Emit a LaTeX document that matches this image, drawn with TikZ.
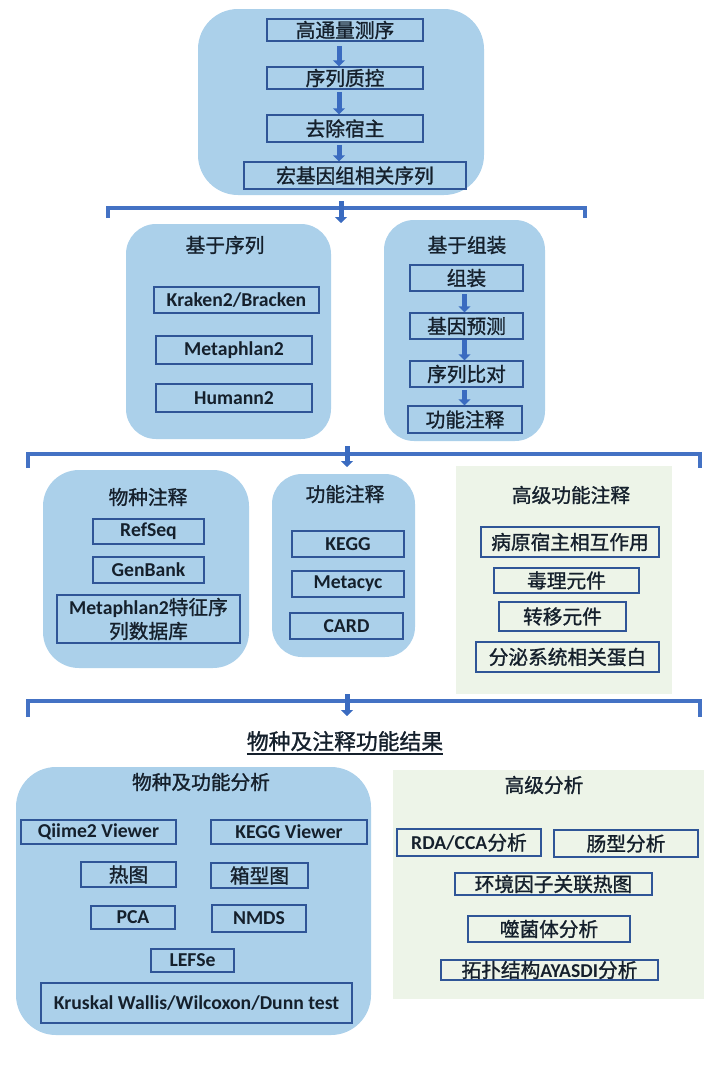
\documentclass[tikz,border=0pt]{standalone}
\usepackage{fontspec}
\setmainfont{Noto Sans CJK SC}[RawFeature={embolden=1.2}]
\newfontfamily\lat{Carlito}
\usetikzlibrary{arrows.meta}

\definecolor{panelblue}{HTML}{ABD0EA}
\definecolor{panelgreen}{HTML}{EDF4E8}
\definecolor{boxblue}{HTML}{2F5597}
\definecolor{braceblue}{HTML}{4472C4}
\definecolor{arrowblue}{HTML}{3A6BC0}
\definecolor{ink}{HTML}{15202C}

\newcommand\thickul[1]{\vtop{\hbox{#1}\kern1.2pt\hrule height 1.4pt}}

% 1 unit = 1 pixel of the reference = 0.025cm
\tikzset{
	every node/.append style={text=ink, font=\fontsize{14}{17}\selectfont},
	sz/.style 2 args={minimum width=#1*0.025cm, minimum height=#2*0.025cm},
	panelbox/.style={fill=panelblue, rounded corners=#1, inner sep=0pt},
	panelbox/.default=0.8cm,
	greenbox/.style={fill=panelgreen, inner sep=0pt},
	item/.style={draw=boxblue, line width=0.0375cm, inner sep=0pt},
	itemlat/.style={item, font=\fontsize{14}{17}\selectfont\lat\bfseries},
	flowarrow/.style={draw=arrowblue, line width=0.125cm, -{Triangle[width=0.3cm,length=0.15cm]}},
	bracket/.style={draw=braceblue, line width=0.1cm},
}

\begin{document}
\begin{tikzpicture}[x=0.025cm, y=-0.025cm]
	\useasboundingbox (0,0) rectangle (720,1088);

	% sequencing
	\node[panelbox=1cm, sz={286}{186}] (top) at (341,102) {};
	\node[item, sz={156}{22}] (s1) at (345,30) {高通量测序};
	\node[item, sz={156}{22}] (s2) at (345,78) {序列质控};
	\node[item, sz={156}{27}] (s3) at (345,128.5) {去除宿主};
	\node[item, sz={222}{27}] (s4) at (355,175.5) {宏基因组相关序列};
	\draw[flowarrow] ([xshift=-0.15cm,yshift=-0.1cm]s1.south) -- ([xshift=-0.15cm]s2.north);
	\draw[flowarrow] ([xshift=-0.15cm,yshift=-0.05cm]s2.south) -- ([xshift=-0.15cm]s3.north);
	\draw[flowarrow] ([xshift=-0.15cm,yshift=-0.05cm]s3.south) -- ([xshift=-0.15cm]s3.south |- s4.north);

	\coordinate (b1l) at (108,218);
	\coordinate (b1r) at (585,218);
	\coordinate (a1) at (341,201);
	\coordinate (a1e) at (341,223);
	\draw[bracket] (b1l) -- ++(0,-10) -| (b1r);
	\draw[flowarrow] (a1) -- (a1e);

	% based on reads
	\node[panelbox=0.75cm, sz={205}{215}] (seq) at (228.5,331.5) {};
	\node (seqt) at (225,245) {基于序列};
	\node[itemlat, sz={165}{26}] (k1) at (236.5,300) {Kraken2/Bracken};
	\node[itemlat, sz={156}{28}] (k2) at (234,350) {Metaphlan2};
	\node[itemlat, sz={156}{28}] (k3) at (234,398) {Humann2};

	% based on assembly
	\node[panelbox=0.75cm, sz={161}{221}] (asm) at (464.5,330.5) {};
	\node (asmt) at (467,245) {基于组装};
	\node[item, sz={113}{26}] (g1) at (466.5,278) {组装};
	\node[item, sz={113}{26}] (g2) at (466.5,326) {基因预测};
	\node[item, sz={113}{26}] (g3) at (466.5,374) {序列比对};
	\node[item, sz={114}{27}] (g4) at (465,419.5) {功能注释};
	\draw[flowarrow] ([xshift=-0.05cm,yshift=-0.05cm]g1.south) -- ([xshift=-0.05cm]g1.south |- g2.north);
	\draw[flowarrow] ([xshift=-0.05cm]g2.south) -- ([xshift=-0.05cm]g2.south |- g3.north);
	\draw[flowarrow] ([xshift=-0.05cm,yshift=-0.05cm]g3.south) -- ([xshift=-0.05cm]g3.south |- g4.north);

	\coordinate (b2l) at (28,468);
	\coordinate (b2r) at (700,468);
	\coordinate (a2) at (347,446);
	\coordinate (a2e) at (347,467);
	\draw[bracket] (b2l) -- ++(0,-14) -| (b2r);
	\draw[flowarrow] (a2) -- (a2e);

	% annotation
	\node[panelbox=0.9cm, sz={206}{198}] (tax) at (146,569) {};
	\node (taxt) at (148,497) {物种注释};
	\node[itemlat, sz={111}{25}] (t1) at (148.5,531.5) {RefSeq};
	\node[itemlat, sz={111}{26}] (t2) at (148.5,570) {GenBank};
	\node[item, sz={183}{48}, align=center] (t3) at (148.5,619) {{\lat\bfseries Metaphlan2}特征序\\列数据库};

	\node[panelbox=0.75cm, sz={143}{183}] (fun) at (343.5,565.5) {};
	\node (funt) at (345,494) {功能注释};
	\node[itemlat, sz={112}{26}] (f1) at (348,544) {KEGG};
	\node[itemlat, sz={112}{26}] (f2) at (348,584) {Metacyc};
	\node[itemlat, sz={113}{26}] (f3) at (346.5,626) {CARD};

	\node[greenbox, sz={216}{228}] (adv) at (564,580) {};
	\node (advt) at (571,495) {高级功能注释};
	\node[item, sz={178}{30}] (h1) at (570,542) {病原宿主相互作用};
	\node[item, sz={145}{25}] (h2) at (566.5,580.5) {毒理元件};
	\node[item, sz={127}{29}] (h3) at (562.5,616.5) {转移元件};
	\node[item, sz={183}{30}] (h4) at (567.5,657) {分泌系统相关蛋白};

	\coordinate (b3l) at (28,717);
	\coordinate (b3r) at (700,717);
	\coordinate (a3) at (347,694);
	\coordinate (a3e) at (347,716);
	\draw[bracket] (b3l) -- ++(0,-16) -| (b3r);
	\draw[flowarrow] (a3) -- (a3e);

	\node[font=\fontsize{15.5}{18}\selectfont] (res) at (345,743) {\thickul{物种及注释功能结果}};

	% analysis
	\node[panelbox=1cm, sz={355}{268}] (ana) at (193.5,901) {};
	\node (anat) at (201,782) {物种及功能分析};
	\node[itemlat, sz={155}{24}] (v1) at (98.5,832) {Qiime2 Viewer};
	\node[itemlat, sz={156}{24}] (v2) at (289,832) {KEGG Viewer};
	\node[item, sz={95}{25}] (v3) at (128.5,874.5) {热图};
	\node[item, sz={97}{25}] (v4) at (259.5,875.5) {箱型图};
	\node[itemlat, sz={84}{23}] (v5) at (133,917.5) {PCA};
	\node[itemlat, sz={94}{27}] (v6) at (259,918.5) {NMDS};
	\node[itemlat, sz={83}{23}] (v7) at (192.5,960.5) {LEFSe};
	\node[itemlat, sz={311}{40}] (v8) at (196.5,1003) {Kruskal Wallis/Wilcoxon/Dunn test};

	\node[greenbox, sz={311}{229}] (hi) at (548.5,884.5) {};
	\node (hit) at (544,785) {高级分析};
	\node[item, sz={144}{27}] (r1) at (469,842.5) {{\lat\bfseries RDA/CCA}分析};
	\node[item, sz={144}{27}] (r2) at (626,843.5) {肠型分析};
	\node[item, sz={197}{22}] (r3) at (553.5,884) {环境因子关联热图};
	\node[item, sz={162}{26}] (r4) at (549,929) {噬菌体分析};
	\node[item, sz={217}{20}] (r5) at (549.5,970) {拓扑结构{\lat\bfseries AYASDI}分析};
\end{tikzpicture}
\end{document}
